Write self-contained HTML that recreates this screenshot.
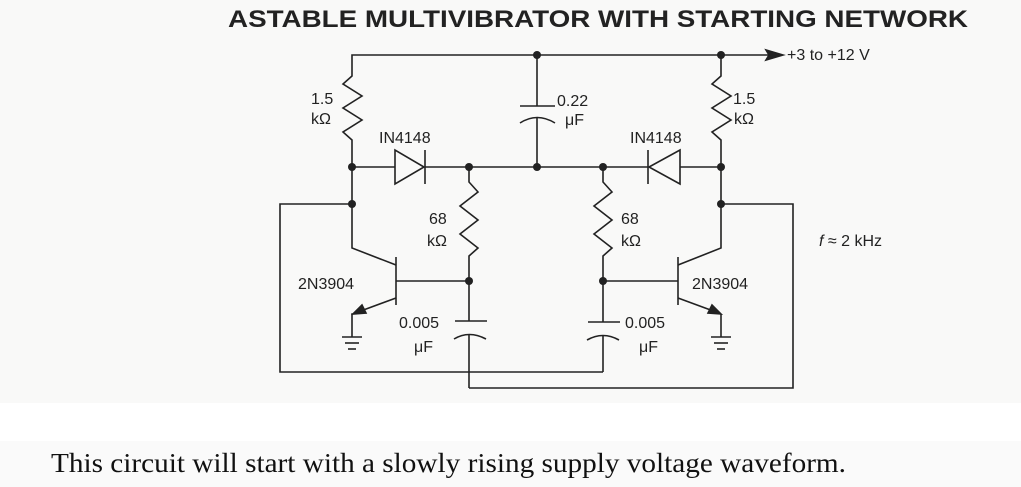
<!DOCTYPE html>
<html><head><meta charset="utf-8"><style>
html,body{margin:0;padding:0;background:#fff}
body{width:1021px;height:487px;overflow:hidden;position:relative}
svg{position:absolute;left:0;top:0}
</style></head><body>
<svg width="1021" height="487" viewBox="0 0 1021 487" xmlns="http://www.w3.org/2000/svg">
<rect x="0" y="0" width="1021" height="403" fill="#f9f9f8"/>
<rect x="0" y="441" width="1021" height="46" fill="#fafafa"/>
<text x="228" y="27" font-family="Liberation Sans, sans-serif" font-weight="bold" font-size="24" textLength="740" lengthAdjust="spacingAndGlyphs" fill="#222">ASTABLE MULTIVIBRATOR WITH STARTING NETWORK</text>
<g stroke="#222" stroke-width="1.6" fill="none">
<polyline points="352,72 352,55 775,55"/>
<polygon points="783,55 766,50 769,55 766,60" fill="#222"/>
<polyline points="352,72 352,76 343,84 362,96 343,108 362,120 343,132 352,140 352,204"/>
<polyline points="721,55 721,76 712,84 731,96 712,108 731,120 712,132 721,140 721,204"/>
<line x1="352" y1="167" x2="395" y2="167"/>
<polygon points="395,150 395,184 424,167" />
<line x1="425" y1="150" x2="425" y2="184"/>
<line x1="425" y1="167" x2="648" y2="167"/>
<line x1="648" y1="150" x2="648" y2="184"/>
<polygon points="680,150 680,184 649,167"/>
<line x1="680" y1="167" x2="721" y2="167"/>
<line x1="537" y1="55" x2="537" y2="106"/>
<line x1="520" y1="106" x2="555" y2="106"/>
<path d="M520,123 Q537,112 555,123"/>
<line x1="537" y1="117" x2="537" y2="167"/>
<polyline points="469,167 469,182 478,192 460,206 478,220 460,234 478,248 469,256 469,321"/>
<polyline points="603,167 603,182 612,192 594,206 612,220 594,234 612,248 603,256 603,322"/>
<line x1="455" y1="321" x2="487" y2="321"/>
<path d="M454,339 Q469,330 486,339"/>
<line x1="469" y1="334" x2="469" y2="388"/>
<line x1="588" y1="322" x2="620" y2="322"/>
<path d="M587,340 Q603,331 619,340"/>
<line x1="603" y1="335" x2="603" y2="372"/>
<polyline points="352,204 280,204 280,372 603,372"/>
<polyline points="469,388 793,388 793,204 721,204"/>
<line x1="396" y1="257" x2="396" y2="305"/>
<polyline points="352,204 352,248 396,265"/>
<line x1="396" y1="281" x2="469" y2="281"/>
<line x1="396" y1="298" x2="358" y2="312"/>
<polygon points="353,314 362,305 366,313" fill="#222"/>
<polyline points="353,314 352,314 352,337"/>
<line x1="342" y1="337" x2="362" y2="337"/><line x1="345" y1="343" x2="359" y2="343"/><line x1="348" y1="349" x2="356" y2="349"/>
<line x1="678" y1="257" x2="678" y2="305"/>
<polyline points="721,204 721,248 678,265"/>
<line x1="603" y1="281" x2="678" y2="281"/>
<line x1="678" y1="298" x2="716" y2="312"/>
<polygon points="721,314 708,313 712,305" fill="#222"/>
<polyline points="721,314 721,337"/>
<line x1="711" y1="337" x2="731" y2="337"/><line x1="714" y1="343" x2="728" y2="343"/><line x1="717" y1="349" x2="725" y2="349"/>
</g>
<g fill="#222">
<circle cx="537" cy="55" r="4"/><circle cx="721" cy="55" r="4"/>
<circle cx="352" cy="167" r="4"/><circle cx="469" cy="167" r="4"/><circle cx="537" cy="167" r="4"/><circle cx="603" cy="167" r="4"/><circle cx="721" cy="167" r="4"/>
<circle cx="352" cy="204" r="4"/><circle cx="721" cy="204" r="4"/>
<circle cx="469" cy="281" r="4"/><circle cx="603" cy="281" r="4"/>
</g>
<g font-family="Liberation Sans, sans-serif" font-size="16" fill="#222">
<text x="787" y="60">+3 to +12 V</text>
<text x="311" y="104">1.5</text><text x="311" y="124">kΩ</text>
<text x="733" y="104">1.5</text><text x="734" y="124">kΩ</text>
<text x="379" y="143">IN4148</text><text x="630" y="143">IN4148</text>
<text x="557" y="106">0.22</text><text x="565" y="125">μF</text>
<text x="429" y="224">68</text><text x="427" y="246">kΩ</text>
<text x="621" y="224">68</text><text x="621" y="246">kΩ</text>
<text x="298" y="289">2N3904</text><text x="692" y="289">2N3904</text>
<text x="399" y="328">0.005</text><text x="414" y="352">μF</text>
<text x="625" y="328">0.005</text><text x="639" y="352">μF</text>
<text x="819" y="246"><tspan font-style="italic">f</tspan> ≈ 2 kHz</text>
</g>
<text x="51" y="472" font-family="Liberation Serif, serif" font-size="27" textLength="795" lengthAdjust="spacingAndGlyphs" fill="#111">This circuit will start with a slowly rising supply voltage waveform.</text>
</svg>
</body></html>
